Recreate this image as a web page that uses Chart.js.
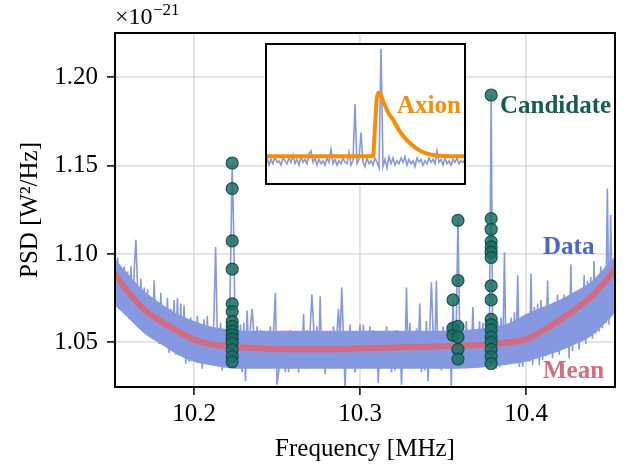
<!DOCTYPE html>
<html><head><meta charset="utf-8">
<script src="https://cdn.jsdelivr.net/npm/chart.js@4.4.1/dist/chart.umd.min.js"></script>
<style>
html,body{margin:0;padding:0;background:#fff;}
#wrap{position:relative;width:633px;height:468px;overflow:hidden;}
#main{position:absolute;left:0;top:0;}
#inset{position:absolute;left:265px;top:43px;background:#fff;}
</style></head><body>
<div id="wrap"><canvas id="main" width="633" height="468"></canvas><canvas id="inset" width="201" height="142"></canvas></div>
<script>
// ---- data (PSD in units of 1e-21 W^2/Hz) ----
const freqStart = 10.150;   // MHz, first sample
const freqStep = 0.001;     // MHz, sample spacing
const psd = [
1.100,1.084,1.099,1.082,1.098,1.069,1.092,1.070,1.093,1.072,
1.090,1.063,1.093,1.062,1.091,1.108,1.081,1.063,1.086,1.060,
1.081,1.060,1.080,1.057,1.075,1.056,1.085,1.055,1.071,1.049,
1.078,1.050,1.066,1.053,1.075,1.044,1.069,1.052,1.074,1.043,
1.075,1.044,1.072,1.046,1.071,1.038,1.062,1.039,1.064,1.046,
1.056,1.041,1.065,1.044,1.055,1.035,1.063,1.040,1.065,1.040,
1.058,1.039,1.064,1.104,1.057,1.044,1.061,1.034,1.054,1.037,
1.057,1.043,1.092,1.1515,1.108,1.037,1.054,1.043,1.060,1.033,
1.061,1.028,1.068,1.041,1.059,1.069,1.054,1.038,1.059,1.040,
1.057,1.039,1.056,1.040,1.053,1.041,1.059,1.042,1.058,1.078,
1.026,1.033,1.053,1.040,1.055,1.033,1.051,1.033,1.057,1.036,
1.052,1.038,1.053,1.033,1.053,1.038,1.066,1.035,1.057,1.037,
1.058,1.077,1.060,1.038,1.059,1.037,1.076,1.035,1.051,1.032,
1.056,1.036,1.051,1.036,1.059,1.039,1.053,1.069,1.052,1.081,
1.053,1.024,1.054,1.036,1.060,1.037,1.051,1.033,1.052,1.039,
1.060,1.037,1.060,1.040,1.053,1.040,1.059,1.038,1.057,1.041,
1.054,1.027,1.056,1.041,1.052,1.040,1.059,1.042,1.053,1.033,
1.055,1.034,1.057,1.040,1.053,1.026,1.052,1.037,1.081,1.037,
1.061,1.036,1.056,1.038,1.058,1.040,1.072,1.033,1.056,1.034,
1.062,1.028,1.057,1.084,1.056,1.043,1.085,1.035,1.054,1.034,
1.059,1.039,1.057,1.041,1.061,1.025,1.074,1.043,1.062,1.119,
1.058,1.037,1.059,1.038,1.062,1.040,1.056,1.039,1.070,1.037,
1.055,1.041,1.062,1.040,1.061,1.038,1.060,1.039,1.060,1.190,
1.040,1.062,1.035,1.062,1.036,1.064,1.040,1.101,1.038,1.060,
1.042,1.064,1.044,1.067,1.042,1.088,1.036,1.062,1.036,1.061,
1.040,1.064,1.039,1.089,1.037,1.070,1.041,1.072,1.037,1.074,
1.040,1.069,1.042,1.085,1.044,1.067,1.041,1.073,1.046,1.077,
1.043,1.069,1.049,1.077,1.050,1.075,1.041,1.094,1.045,1.078,
1.050,1.076,1.046,1.078,1.053,1.088,1.049,1.085,1.055,1.087,
1.052,1.096,1.055,1.083,1.056,1.093,1.058,1.090,1.061,1.137,
1.060,1.122,1.066,1.094,1.064,1.101
];
// dense core of the noisy data trace (where the trace fills solidly)
const bandFreq = [10.150,10.160,10.170,10.180,10.190,10.200,10.210,10.220,10.230,10.250,10.300,10.350,10.370,10.390,10.400,10.410,10.420,10.430,10.440,10.450,10.455];
const bandHigh = [1.100,1.089,1.079,1.072,1.066,1.062,1.059,1.0575,1.0565,1.0565,1.0565,1.0565,1.0575,1.061,1.066,1.070,1.074,1.079,1.085,1.095,1.100];
const bandLow  = [1.073,1.064,1.055,1.049,1.043,1.039,1.037,1.0355,1.035,1.035,1.035,1.035,1.0355,1.0375,1.039,1.042,1.045,1.049,1.054,1.063,1.068];
const meanFreq = [10.150,10.160,10.170,10.180,10.190,10.200,10.210,10.220,10.230,10.240,10.250,10.270,10.290,10.300,10.320,10.340,10.360,10.380,10.390,10.400,10.410,10.420,10.430,10.440,10.450,10.455];
const meanPsd  = [1.0915,1.0790,1.0685,1.0620,1.0565,1.0515,1.0490,1.0478,1.0470,1.0465,1.0462,1.0461,1.0462,1.0465,1.0470,1.0475,1.0481,1.0489,1.0500,1.0518,1.0565,1.0625,1.0690,1.0765,1.0870,1.0930];
const candFreq = [
10.223,10.223,10.223,10.223,10.223,10.223,10.223,10.223,10.223,10.223,10.223,10.223,10.223,10.223,10.223,
10.356,10.356,10.356,
10.359,10.359,10.359,10.359,10.359,10.359,
10.379,10.379,10.379,10.379,10.379,10.379,10.379,10.379,10.379,10.379,10.379,10.379,10.379,10.379,10.379,10.379,10.379
];
const candPsd = [
1.1515,1.137,1.1074,1.0914,1.0718,1.0674,1.0618,1.059,1.0565,1.0543,1.052,1.0495,1.0458,1.042,1.039,
1.074,1.058,1.054,
1.119,1.085,1.059,1.053,1.046,1.0405,
1.190,1.120,1.114,1.107,1.104,1.101,1.098,1.082,1.074,1.063,1.060,1.057,1.053,1.050,1.046,1.042,1.038
];
const xTicks = [10.2,10.3,10.4];
const xTickLabels = ['10.2','10.3','10.4'];
const yTicks = [1.05,1.10,1.15,1.20];
const yTickLabels = ['1.05','1.10','1.15','1.20'];

// inset (zoom on the axion line shape), arbitrary units
const insetStart = 0, insetStep = 2;
const insetPsd = [
0.16,0.19,0.14,0.18,0.15,0.20,0.16,0.17,0.14,0.19,
0.17,0.15,0.19,0.16,0.21,0.15,0.18,0.14,0.20,0.16,
0.18,0.15,0.22,0.24,0.16,0.19,0.14,0.18,0.15,0.17,
0.14,0.19,0.16,0.25,0.15,0.18,0.14,0.17,0.15,0.19,
0.16,0.15,0.23,0.14,0.17,0.57,0.15,0.18,0.37,0.16,
0.13,0.19,0.15,0.17,0.14,0.19,0.16,0.12,0.96,0.13,
0.18,0.12,0.20,0.15,0.19,0.14,0.17,0.15,0.19,0.16,
0.20,0.14,0.18,0.15,0.17,0.13,0.19,0.16,0.18,0.14,
0.17,0.15,0.19,0.16,0.18,0.15,0.24,0.16,0.18,0.14,
0.19,0.15,0.17,0.14,0.18,0.16,0.19,0.15,0.17,0.16,0.18
];
const axionX = [0,108,110,111.7,113.3,115.5,117.5,120,124,128.3,135,145,155,165,178,201];
const axionY = [0.202,0.202,0.41,0.60,0.65,0.64,0.60,0.56,0.50,0.458,0.375,0.294,0.242,0.216,0.204,0.202];

// ---- colours ----
const C_DATA = '#8599e2', C_MEAN = '#d56a7f', C_CAND = 'rgba(28,110,100,0.85)';
const SERIF = '"Liberation Serif", "Times New Roman", serif';

const dataPts = psd.map((v, i) => ({x: +(freqStart + i * freqStep).toFixed(4), y: v}));
const lowPts = bandFreq.map((f, i) => ({x: f, y: bandLow[i]}));
const highPts = bandFreq.map((f, i) => ({x: f, y: bandHigh[i]}));
const meanPts = meanFreq.map((f, i) => ({x: f, y: meanPsd[i]}));
const candPts = candFreq.map((f, i) => ({x: f, y: candPsd[i]}));

const deco = {
  id: 'deco',
  afterDraw(chart) {
    const {ctx, chartArea: {left, top, right, bottom}} = chart;
    ctx.save();
    ctx.strokeStyle = '#000'; ctx.lineWidth = 2;
    ctx.strokeRect(left, top, right - left, bottom - top);
    ctx.fillStyle = '#000'; ctx.textBaseline = 'alphabetic'; ctx.textAlign = 'left';
    ctx.font = '24px ' + SERIF;
    ctx.fillText('×10', 115, 24);
    const w = ctx.measureText('×10').width;
    ctx.font = '17px ' + SERIF;
    ctx.fillText('−21', 115 + w + 0.5, 15);
    ctx.font = '25px ' + SERIF; ctx.textAlign = 'center';
    ctx.fillText('Frequency [MHz]', (left + right) / 2, 456);
    ctx.save();
    ctx.translate(36.6, (top + bottom) / 2); ctx.rotate(-Math.PI / 2);
    ctx.fillText('PSD [W²/Hz]', 0, 0);
    ctx.restore();
    ctx.textAlign = 'left';
    ctx.font = 'bold 25px ' + SERIF;
    ctx.fillStyle = '#125e54'; ctx.fillText('Candidate', 500, 113);
    ctx.fillStyle = '#4566d3'; ctx.fillText('Data', 543, 254);
    ctx.fillStyle = '#d76c80'; ctx.fillText('Mean', 543, 378);
    ctx.restore();
  }
};

const gridOpts = {color: 'rgba(200,200,200,0.55)', lineWidth: 1.8, tickColor: '#000', tickLength: 8, tickWidth: 1.5};

new Chart(document.getElementById('main'), {
  type: 'line',
  data: {datasets: [
    {label: 'band low', data: lowPts, borderWidth: 0, borderColor: 'rgba(0,0,0,0)', pointRadius: 0, fill: false, cubicInterpolationMode: 'monotone', order: 5},
    {label: 'band high', data: highPts, borderWidth: 0, borderColor: 'rgba(0,0,0,0)', backgroundColor: C_DATA, pointRadius: 0, fill: '-1', cubicInterpolationMode: 'monotone', order: 4},
    {label: 'Data', data: dataPts, borderColor: C_DATA, borderWidth: 1.6, pointRadius: 0, tension: 0, order: 3},
    {label: 'Mean', data: meanPts, borderColor: C_MEAN, borderWidth: 6, pointRadius: 0, cubicInterpolationMode: 'monotone', order: 2},
    {label: 'Candidate', data: candPts, showLine: false, pointRadius: 6, pointBackgroundColor: C_CAND,
     pointBorderColor: 'rgba(12,75,68,0.9)', pointBorderWidth: 1.2, order: 1}
  ]},
  options: {
    responsive: false, animation: false, devicePixelRatio: 1,
    layout: {padding: {top: 33, right: 18, left: 0, bottom: 0}},
    plugins: {legend: {display: false}, tooltip: {enabled: false}, filler: {propagate: false}},
    scales: {
      x: {type: 'linear', min: 10.1524, max: 10.4536, z: 1,
          afterBuildTicks: s => { s.ticks = xTicks.map(v => ({value: v})); },
          afterFit: s => { s.height = 81; },
          grid: gridOpts, border: {display: false},
          ticks: {callback: (v, i) => xTickLabels[i], font: {family: SERIF, size: 25}, color: '#000',
                  padding: 4, maxRotation: 0, autoSkip: false}},
      y: {type: 'linear', min: 1.0247, max: 1.2251, z: 1,
          afterBuildTicks: s => { s.ticks = yTicks.map(v => ({value: v})); },
          afterFit: s => { s.width = 115; },
          grid: gridOpts, border: {display: false},
          ticks: {callback: (v, i) => yTickLabels[i], font: {family: SERIF, size: 25}, color: '#000',
                  padding: 9, autoSkip: false}}
    }
  },
  plugins: [deco]
});

const insetDeco = {
  id: 'insetDeco',
  afterDraw(chart) {
    const ctx = chart.ctx;
    ctx.save();
    ctx.strokeStyle = '#000'; ctx.lineWidth = 2;
    ctx.strokeRect(1, 1, chart.width - 2, chart.height - 2);
    ctx.font = 'bold 25px ' + SERIF; ctx.fillStyle = '#ff8c00';
    ctx.textAlign = 'left'; ctx.textBaseline = 'alphabetic';
    ctx.fillText('Axion', 132, 70);
    ctx.restore();
  }
};

new Chart(document.getElementById('inset'), {
  type: 'line',
  data: {datasets: [
    {data: insetPsd.map((v, i) => ({x: insetStart + i * insetStep, y: v})), borderColor: C_DATA, borderWidth: 1.6, pointRadius: 0, tension: 0, order: 2},
    {data: axionX.map((x, i) => ({x: x, y: axionY[i]})), borderColor: '#ff8c00', borderWidth: 4, pointRadius: 0, cubicInterpolationMode: 'monotone', order: 1}
  ]},
  options: {
    responsive: false, animation: false, devicePixelRatio: 1,
    layout: {padding: 0},
    plugins: {legend: {display: false}, tooltip: {enabled: false}},
    scales: {x: {type: 'linear', min: 0, max: 201, display: false}, y: {min: 0, max: 1, display: false}}
  },
  plugins: [insetDeco]
});
</script>
</body></html>
